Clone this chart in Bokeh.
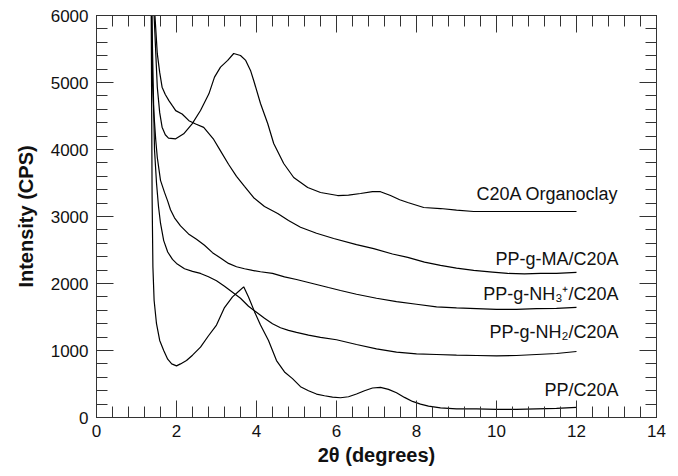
from bokeh.plotting import figure
from bokeh.models import Range1d, LinearAxis, SingleIntervalTicker, ColumnDataSource
from bokeh.embed import file_html
from bokeh.resources import INLINE
from bokeh.core.properties import value

# ---- data ----
clay_x = [1.36, 1.44, 1.52, 1.58, 1.64, 1.72, 1.80, 1.98, 2.18, 2.39, 2.60, 2.81, 2.95, 3.10,
          3.28, 3.43, 3.60, 3.73, 3.85, 3.93, 4.10, 4.28, 4.43, 4.68, 4.93, 5.28, 5.60, 6.03,
          6.30, 6.60, 6.90, 7.10, 7.35, 7.58, 7.78, 8.18, 8.60, 9.00, 9.43, 10.28, 11.10, 12.0]
clay_y = [7000, 6000, 4930, 4550, 4333, 4220, 4170, 4159, 4234, 4383, 4582, 4831, 5080, 5230,
          5330, 5433, 5403, 5330, 5180, 5030, 4687, 4388, 4090, 3791, 3582, 3433, 3358, 3313,
          3320, 3343, 3370, 3370, 3313, 3250, 3209, 3134, 3119, 3095, 3075, 3075, 3075, 3075]

ma_x = [1.36, 1.44, 1.52, 1.58, 1.64, 1.72, 1.81, 1.90, 1.98, 2.14, 2.31, 2.48, 2.68, 2.93,
        3.10, 3.30, 3.50, 3.70, 3.93, 4.20, 4.53, 4.80, 5.10, 5.50, 5.93, 6.50, 6.93, 7.40,
        7.78, 8.20, 8.60, 9.00, 9.43, 9.90, 10.28, 10.70, 11.10, 11.50, 12.0]
ma_y = [7000, 6200, 5430, 5150, 4930, 4820, 4730, 4650, 4580, 4530, 4430, 4380, 4330, 4150,
        3980, 3780, 3600, 3450, 3280, 3150, 3045, 2940, 2840, 2750, 2672, 2580, 2520, 2440,
        2390, 2320, 2270, 2230, 2195, 2170, 2150, 2145, 2150, 2150, 2165]

nh3_x = [1.36, 1.40, 1.43, 1.48, 1.52, 1.60, 1.70, 1.78, 1.85, 1.95, 2.10, 2.30, 2.50, 2.70,
         2.90, 3.10, 3.30, 3.50, 3.70, 3.90, 4.10, 4.40, 4.70, 5.00, 5.40, 5.80, 6.10, 6.50,
         7.00, 7.50, 8.00, 8.50, 9.00, 9.50, 10.0, 10.5, 11.0, 11.5, 12.0]
nh3_y = [7000, 5000, 4580, 4150, 3880, 3540, 3360, 3230, 3100, 2980, 2860, 2740, 2660, 2570,
         2460, 2380, 2300, 2250, 2220, 2195, 2175, 2150, 2100, 2060, 2000, 1940, 1896, 1840,
         1780, 1730, 1690, 1650, 1635, 1625, 1615, 1615, 1625, 1630, 1645]

nh2_x = [1.36, 1.40, 1.45, 1.50, 1.55, 1.60, 1.68, 1.78, 1.90, 2.00, 2.20, 2.40, 2.60, 2.80,
         3.00, 3.20, 3.40, 3.60, 3.80, 4.00, 4.20, 4.40, 4.60, 4.80, 5.00, 5.30, 5.60, 6.00,
         6.50, 7.00, 7.50, 8.00, 8.50, 9.00, 9.50, 10.0, 10.5, 11.0, 11.5, 12.0]
nh2_y = [7000, 5500, 4000, 3500, 3150, 2900, 2640, 2470, 2360, 2300, 2220, 2180, 2150, 2100,
         2040, 1960, 1870, 1780, 1660, 1570, 1480, 1400, 1340, 1300, 1270, 1230, 1195, 1160,
         1090, 1025, 975, 950, 940, 930, 925, 920, 925, 940, 955, 985]

pp_x = [1.36, 1.39, 1.41, 1.44, 1.50, 1.58, 1.68, 1.78, 1.88, 2.00, 2.10, 2.25, 2.40, 2.60,
        2.80, 3.00, 3.20, 3.40, 3.55, 3.68, 3.80, 3.95, 4.10, 4.30, 4.50, 4.70, 4.90, 5.10,
        5.30, 5.50, 5.70, 5.90, 6.10, 6.30, 6.50, 6.70, 6.90, 7.10, 7.30, 7.50, 7.70, 7.90,
        8.10, 8.30, 8.60, 9.00, 9.50, 10.0, 10.5, 11.0, 11.5, 12.0]
pp_y = [7000, 3300, 2250, 1750, 1400, 1150, 1000, 870, 800, 770, 800, 850, 930, 1050,
        1220, 1380, 1640, 1800, 1880, 1950, 1800, 1580, 1380, 1150, 850, 680, 580, 460,
        400, 350, 325, 305, 295, 310, 350, 400, 440, 450, 420, 370, 300, 240,
        200, 170, 145, 130, 130, 120, 120, 130, 135, 150]

label_text = ["C20A Organoclay", "PP-g-MA/C20A", "PP-g-NH\u2083\u207a/C20A",
              "PP-g-NH\u2082/C20A", "PP/C20A"]
label_x = [13.05, 13.05, 13.05, 13.05, 13.05]
label_y = [3339, 2368, 1846, 1274, 408]

x_title = "2\u03b8 (degrees)"
y_title = "Intensity (CPS)"

FONT = "Liberation Sans"
AXIS_COLOR = "#333333"

p = figure(width=678, height=476, output_backend="svg", toolbar_location=None,
           x_range=Range1d(0, 14), y_range=Range1d(0, 6000),
           min_border_left=96, min_border_right=22, min_border_top=15, min_border_bottom=59)
p.background_fill_color = "white"
p.border_fill_color = "white"
p.outline_line_color = AXIS_COLOR
p.xgrid.visible = False
p.ygrid.visible = False

for xs, ys in [(clay_x, clay_y), (ma_x, ma_y), (nh3_x, nh3_y), (nh2_x, nh2_y), (pp_x, pp_y)]:
    p.line(xs, ys, line_color="black", line_width=1.2)

src = ColumnDataSource(dict(x=label_x, y=label_y, t=label_text))
p.text(x="x", y="y", text="t", source=src, text_align="right", text_baseline="middle",
       text_font=value(FONT), text_font_size="18px", text_color="#111111")

def style_axis(ax, xaxis, labels=True):
    ax.ticker = SingleIntervalTicker(interval=2 if xaxis else 1000, num_minor_ticks=5)
    ax.major_tick_in = 17
    ax.major_tick_out = 0
    ax.minor_tick_in = 11
    ax.minor_tick_out = 0
    ax.axis_line_color = AXIS_COLOR
    ax.major_tick_line_color = AXIS_COLOR
    ax.minor_tick_line_color = AXIS_COLOR
    ax.axis_line_width = 1
    ax.major_tick_line_width = 1
    ax.minor_tick_line_width = 1
    ax.major_label_text_font = FONT
    if labels:
        ax.major_label_text_font_size = "17px"
        ax.major_label_text_color = "#111111"
    else:
        ax.major_label_text_font_size = "1px"
        ax.major_label_text_color = None
        ax.major_label_standoff = 0

xa = p.xaxis[0]
style_axis(xa, True)
xa.major_label_standoff = 7
xa.axis_label = x_title
xa.axis_label_text_font = FONT
xa.axis_label_text_font_style = "bold"
xa.axis_label_text_font_size = "20px"
xa.axis_label_standoff = 4
xa.axis_label_text_color = "#111111"

ya = p.yaxis[0]
style_axis(ya, False)
ya.major_label_standoff = 8
ya.axis_label = y_title
ya.axis_label_text_font = FONT
ya.axis_label_text_font_style = "bold"
ya.axis_label_text_font_size = "20px"
ya.axis_label_standoff = 11
ya.axis_label_text_color = "#111111"

top = LinearAxis()
style_axis(top, True, labels=False)
p.add_layout(top, "above")
right = LinearAxis()
style_axis(right, False, labels=False)
p.add_layout(right, "right")

open("out.html", "w").write(file_html(p, INLINE))
